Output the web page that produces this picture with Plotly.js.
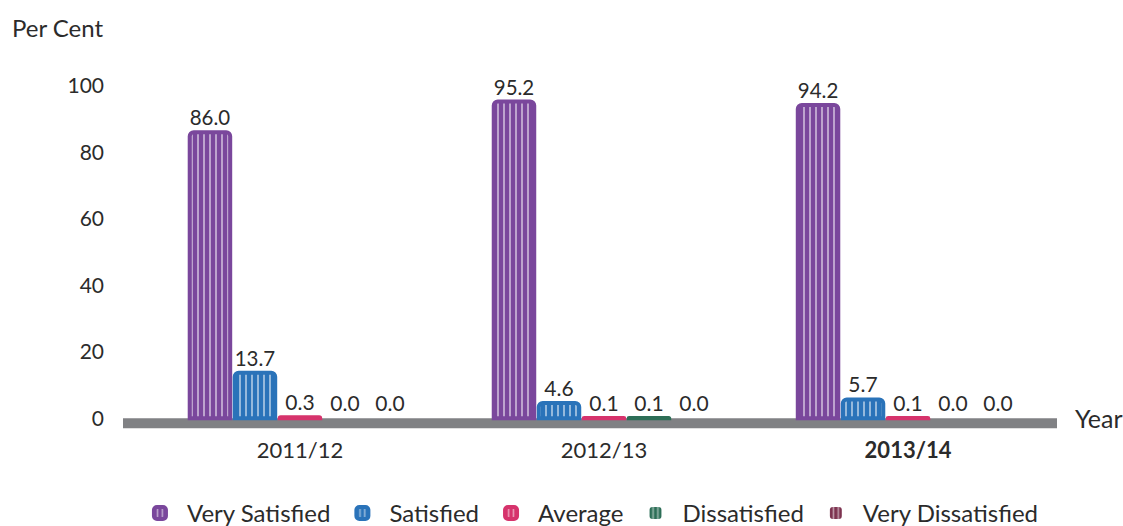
<!DOCTYPE html>
<html>
<head>
<meta charset="utf-8">
<script src="https://cdn.plot.ly/plotly-3.0.1.min.js"></script>
<style>html,body{margin:0;padding:0;background:#fff;}#chart{width:1123px;height:526px;}</style>
</head>
<body>
<div id="chart"></div>
<script>
const years = ["2011/12", "2012/13", "2013/14"];
const yearLabels = ["2011/12", "2012/13", "<b>2013/14</b>"];
const seriesNames = ["Very Satisfied", "Satisfied", "Average", "Dissatisfied", "Very Dissatisfied"];
const verySatisfied = [86.0, 95.2, 94.2];
const satisfied = [13.7, 4.6, 5.7];
const average = [0.3, 0.1, 0.1];
const dissatisfied = [0.0, 0.1, 0.0];
const veryDissatisfied = [0.0, 0.0, 0.0];
const seriesValues = [verySatisfied, satisfied, average, dissatisfied, veryDissatisfied];
const seriesColors = ["#7A479C", "#2A73B9", "#D6336C", "#2D6E57", "#7D3350"];
const yTicks = [0, 20, 40, 60, 80, 100];

const FONT = "Lato, 'Open Sans', sans-serif";
const TXT = "#2b2b2b";

const traces = seriesNames.map((name, i) => ({
  type: "bar",
  name: name,
  x: years,
  y: seriesValues[i],
  text: seriesValues[i].map(v => v.toFixed(1)),
  textposition: "outside",
  textfont: {family: FONT, size: 21, color: TXT},
  cliponaxis: false,
  marker: {
    color: seriesColors[i],
    line: {color: seriesColors[i], width: seriesValues[i].map(v => v > 0 ? 4 : 0)},
    pattern: {shape: "|", fgcolor: "#ffffff", bgcolor: seriesColors[i], size: 6, solidity: 0.34, fillmode: "overlay"}
  },
  hoverinfo: "none"
}));

const layout = {
  width: 1123, height: 526,
  margin: {l: 123, r: 66, t: 68.9, b: 95.8},
  paper_bgcolor: "#fff", plot_bgcolor: "#fff",
  font: {family: FONT, size: 21, color: TXT},
  barmode: "group",
  bargap: 0.26,
  bargroupgap: 0.1,
  barcornerradius: 4,
  showlegend: true,
  legend: {orientation: "h", x: 0.524, xref: "container", xanchor: "center", y: 0.024, yref: "container", yanchor: "middle",
           font: {family: FONT, size: 24, color: TXT}, traceorder: "normal", itemwidth: 44},
  xaxis: {type: "category", range: [-0.582, 2.49], tickvals: years, ticktext: yearLabels,
          showline: false, showgrid: false, zeroline: false, ticks: "", ticklabelstandoff: 5,
          tickfont: {family: FONT, size: 22, color: TXT}, fixedrange: true},
  yaxis: {range: [-3.5, 105], tickvals: yTicks, showgrid: false, zeroline: false, showline: false,
          ticks: "", ticklabelstandoff: 18, tickfont: {family: FONT, size: 21, color: TXT}, fixedrange: true},
  shapes: [{type: "rect", xref: "paper", x0: 0, x1: 1, yref: "y", y0: -3, y1: 0,
            fillcolor: "#808184", line: {width: 0}, layer: "below"}],
  annotations: [
    {text: "Per Cent", xref: "paper", yref: "paper", x: -0.121, y: 1.116, xanchor: "left", yanchor: "middle",
     showarrow: false, font: {family: FONT, size: 24, color: TXT}},
    {text: "Year", xref: "paper", yref: "paper", x: 1.017, y: 0.034, xanchor: "left", yanchor: "middle",
     showarrow: false, font: {family: FONT, size: 25, color: TXT}}
  ]
};

Plotly.newPlot("chart", traces, layout, {displayModeBar: false, staticPlot: true});
</script>
</body>
</html>
